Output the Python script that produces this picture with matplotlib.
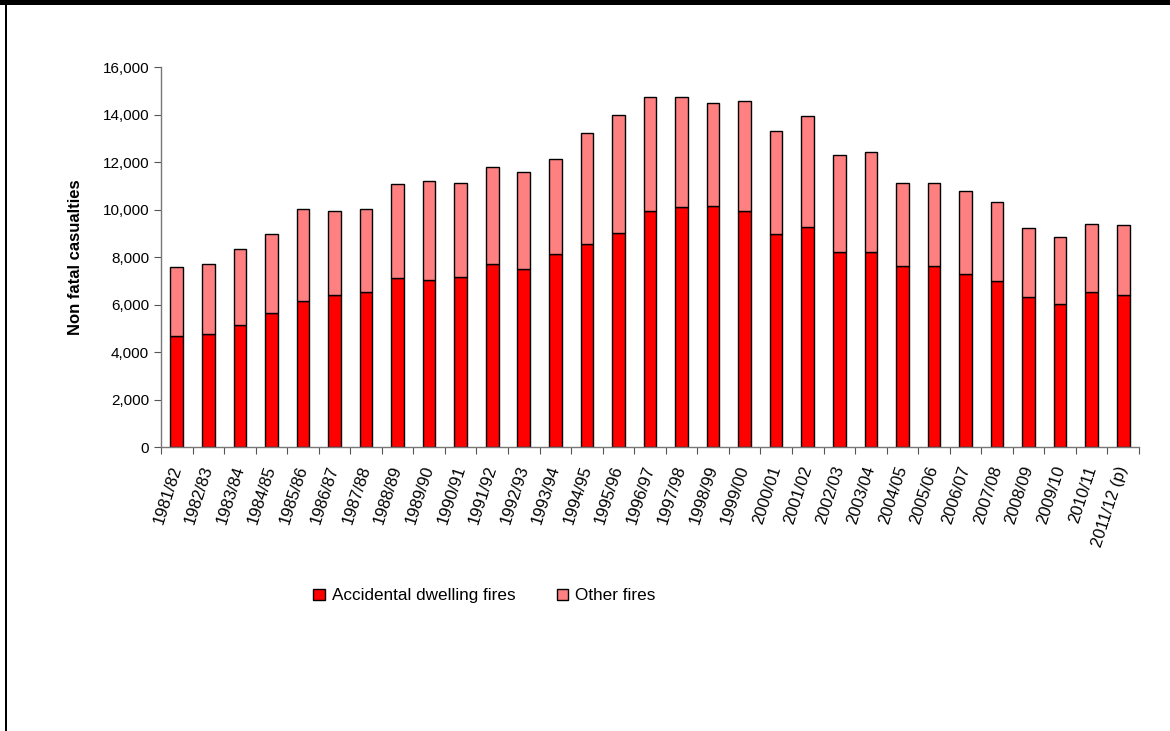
import matplotlib as mpl
import matplotlib.pyplot as plt
from matplotlib.ticker import FuncFormatter, FixedLocator
import numpy as np

mpl.rcParams['font.family'] = ['Liberation Sans', 'DejaVu Sans']

years = ['1981/82', '1982/83', '1983/84', '1984/85', '1985/86', '1986/87',
         '1987/88', '1988/89', '1989/90', '1990/91', '1991/92', '1992/93',
         '1993/94', '1994/95', '1995/96', '1996/97', '1997/98', '1998/99',
         '1999/00', '2000/01', '2001/02', '2002/03', '2003/04', '2004/05',
         '2005/06', '2006/07', '2007/08', '2008/09', '2009/10', '2010/11',
         '2011/12 (p)']

dwelling = [4680, 4780, 5160, 5630, 6150, 6390, 6520, 7140, 7040, 7180,
            7710, 7480, 8130, 8570, 9030, 9930, 10130, 10170, 9930, 8990,
            9270, 8220, 8220, 7610, 7610, 7290, 7010, 6340, 6010, 6530, 6390]

total = [7600, 7710, 8330, 8990, 10030, 9930, 10030, 11070, 11210, 11110,
         11810, 11590, 12150, 13250, 14000, 14760, 14760, 14480, 14570, 13330,
         13950, 12290, 12440, 11110, 11110, 10790, 10310, 9230, 8840, 9410, 9370]

other = [t - d for t, d in zip(total, dwelling)]

fig = plt.figure(figsize=(11.7, 7.31), dpi=100)
ax = fig.add_axes([0.1376, 0.3885, 0.8359, 0.5195])

x = np.arange(len(years))
w = 0.4
ax.bar(x, dwelling, w, color='#ff0000', edgecolor='black', linewidth=1,
       label='Accidental dwelling fires')
ax.bar(x, other, w, bottom=dwelling, color='#ff8080', edgecolor='black',
       linewidth=1, label='Other fires')

ax.set_xlim(-0.5, len(years) - 0.5)
ax.set_ylim(0, 16000)
ax.set_yticks(np.arange(0, 16001, 2000))
ax.yaxis.set_major_formatter(FuncFormatter(lambda v, p: '{:,.0f}'.format(v)))

# ticks sit between categories, labels under each bar
ax.xaxis.set_major_locator(FixedLocator(np.arange(-0.5, len(years), 1)))
ax.xaxis.set_major_formatter(FuncFormatter(lambda v, p: ''))
ax.set_xticks(x, minor=True)
ax.set_xticklabels(years, minor=True, rotation=72, ha='right', va='center',
                   rotation_mode='anchor', fontsize=12)
ax.tick_params(axis='x', which='minor', length=0, pad=14)
ax.tick_params(axis='x', which='major', length=5, direction='out', color='#555555')
ax.tick_params(axis='y', length=5, direction='out', color='#555555', labelsize=11)

for s in ['top', 'right']:
    ax.spines[s].set_visible(False)
for s in ['left', 'bottom']:
    ax.spines[s].set_color('#777777')
    ax.spines[s].set_linewidth(1)

ax.set_ylabel('Non fatal casualties', fontsize=12, fontweight='bold', labelpad=14)

ax.legend(loc='center', bbox_to_anchor=(0.414, 0.1847), bbox_transform=fig.transFigure,
          ncol=2, frameon=False, fontsize=12.3, handlelength=0.7, handleheight=0.7,
          columnspacing=2.4, handletextpad=0.4)

# frame around the figure
fig.add_artist(plt.Rectangle((0, 1 - 5 / 731), 1, 5 / 731, transform=fig.transFigure,
                             color='black', lw=0))
fig.add_artist(plt.Rectangle((5 / 1170, 0), 2 / 1170, 1, transform=fig.transFigure,
                             color='black', lw=0))

fig.savefig('out.png', dpi=100)
plt.close(fig)
